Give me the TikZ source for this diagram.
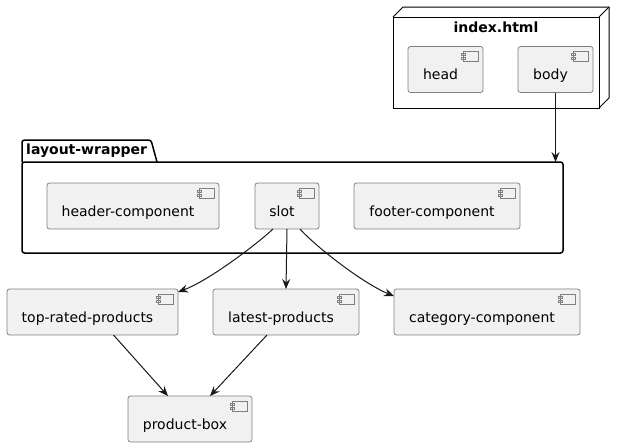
\documentclass[tikz,border=0pt]{standalone}
\usepackage{fontspec}
\setmainfont{DejaVu Sans}
\usetikzlibrary{arrows.meta,positioning}
\definecolor{compfill}{HTML}{F1F1F1}
\definecolor{compline}{HTML}{808080}
\definecolor{lineclr}{HTML}{181818}

\begin{document}
\begin{tikzpicture}[
  x=1pt, y=-1pt,
  comp/.style={rectangle, draw=compline, line width=0.8pt, fill=compfill, rounded corners=2.5pt,
    minimum height=46pt, inner sep=0pt, outer sep=0pt, text height=21pt, text depth=1pt,
    font=\fontsize{14pt}{17pt}\selectfont, execute at end node={\hspace{10pt}},
    path picture={
      \draw[compline, line width=0.8pt, fill=compfill, sharp corners]
        ([shift={(-20,5)}]path picture bounding box.north east) rectangle ++(15,10)
        ([shift={(-22,7)}]path picture bounding box.north east) rectangle ++(4,2)
        ([shift={(-22,11)}]path picture bounding box.north east) rectangle ++(4,2);
    }},
  frame/.style={rectangle, draw=black, inner sep=0pt, outer sep=0pt},
  title/.style={font=\bfseries\fontsize{14pt}{17pt}\selectfont, inner sep=0pt},
  arr/.style={-{Stealth[length=10pt,width=8pt,inset=3.5pt]}, line width=1pt, draw=lineclr}
]
\useasboundingbox (0,0) rectangle (624,447);

\node[frame, line width=1pt, minimum width=206pt, minimum height=91pt] (index) at (496,62.5) {};
\draw[line width=1pt] (index.north west) -- ++(10,-10) -- ++(206,0) -- ++(0,91) -- (index.south east);
\draw[line width=1pt] (index.north east) -- ++(10,-10);
\node[title, anchor=base] (indextitle) at (496,32) {index.html};

\node[frame, line width=1.5pt, rounded corners=2.5pt, minimum width=541pt, minimum height=91pt] (wrapper) at (292.5,207.5) {};
\draw[line width=1.5pt, rounded corners=2.5pt] (wrapper.north west) -- ++(0,-22) -- ++(129,0) -- ++(6,22);
\node[title, anchor=base west] (wrappertitle) at (26,154) {layout-wrapper};

\node[comp, minimum width=75pt] (head) at (445.5,69.5) {head};
\node[comp, minimum width=75pt, right=35pt of head] (body) {body};

\node[comp, minimum width=172pt] (header) at (133,206) {header-component};
\node[comp, minimum width=64pt, right=36pt of header] (slot) {slot};
\node[comp, minimum width=166pt, right=35pt of slot] (footer) {footer-component};

\node[comp, minimum width=171pt] (toprated) at (92.5,312) {top-rated-products};
\node[comp, minimum width=146pt, right=35pt of toprated] (latest) {latest-products};
\node[comp, minimum width=186pt, right=35pt of latest] (category) {category-component};

\node[comp, minimum width=124pt] (productbox) at (190,419) {product-box};

\draw[arr] (body.south) -- (body.south |- wrapper.north);
\draw[arr] ([xshift=-14pt]slot.south) .. controls +(-17,16) and +(30,-11) .. ([yshift=-3pt]toprated.north east);
\draw[arr] (slot.south) -- (latest.north);
\draw[arr] ([xshift=13pt]slot.south) .. controls +(16,18) and +(-30,-12) .. ([yshift=-7pt]category.north west);
\draw[arr] ([xshift=21pt]toprated.south) -- ([xshift=-22pt]productbox.north);
\draw[arr] ([xshift=-19pt]latest.south) -- ([xshift=20pt]productbox.north);
\end{tikzpicture}
\end{document}
